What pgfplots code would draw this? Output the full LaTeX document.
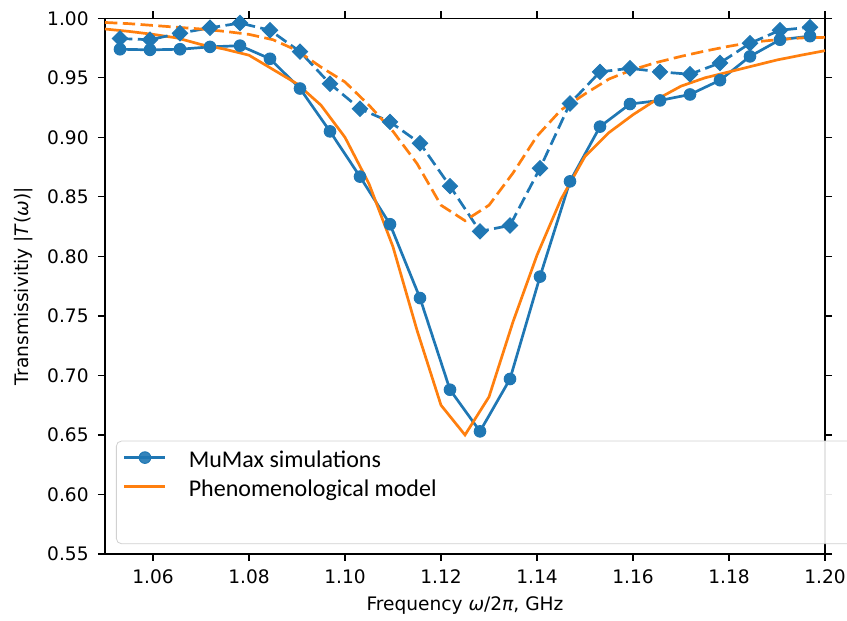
\documentclass[border=0pt]{standalone}
\usepackage{pgfplots}
\pgfplotsset{compat=1.18}
\usepackage{fontspec}
\setmainfont{DejaVu Sans}
\newfontfamily\legendfont{Carlito}
\definecolor{mplblue}{HTML}{1F77B4}
\definecolor{mplorange}{HTML}{FF7F0E}

\begin{document}
\begin{tikzpicture}
\begin{axis}[
  name=ax, at={(0,0)}, anchor=south west,
  scale only axis, width=360pt, height=267.85pt,
  xmin=1.05, xmax=1.20, ymin=0.55, ymax=1.00,
  xtick={1.06,1.08,1.10,1.12,1.14,1.16,1.18,1.20},
  ytick={0.55,0.60,0.65,0.70,0.75,0.80,0.85,0.90,0.95,1.00},
  tick align=outside, major tick length=3.5pt,
  every tick/.style={black, line width=0.6pt},
  axis line style={line width=0.6pt},
  tick label style={font=\fontsize{9.3}{11}\selectfont, inner sep=0pt,
    /pgf/number format/assume math mode=true,
    /pgf/number format/fixed, /pgf/number format/fixed zerofill,
    /pgf/number format/precision=2},
  xticklabel style={anchor=north, yshift=-4.1pt},
  yticklabel style={anchor=east, xshift=-4.5pt},
  label style={font=\fontsize{9.3}{11}\selectfont},
  xlabel={Frequency \textit{ω}/2\textit{π}, GHz},
  ylabel={Transmissivitiy |\textit{T}(\textit{ω})|},
  xlabel style={at={(axis description cs:0.5,-0.1064)}, anchor=base},
  ylabel style={at={(axis description cs:-0.10625,0.5)}, anchor=base},
  legend style={at={(axis description cs:0.01528,0.2115)}, anchor=north west,
    draw=black!18, fill=white, fill opacity=0.9, text opacity=1,
    rounded corners=2.5pt, inner xsep=3.35pt, inner ysep=1pt,
    font=\legendfont\fontsize{12}{14}\selectfont,
    nodes={inner sep=0pt, text depth=2.5pt}, row sep=0pt, column sep=11pt},
  legend cell align=left,
  legend image code/.code={\draw[mark repeat=2,mark phase=2,#1]
    plot coordinates {(0pt,0pt) (10.25pt,0pt) (20.5pt,0pt)};},
]
% MuMax, solid line with circles
\addplot[mplblue, line width=1.35pt, mark=*, mark size=2.9pt,
  mark options={line width=0.5pt}] coordinates {
(1.053125,0.974) (1.059375,0.9735) (1.065625,0.974) (1.071875,0.976)
(1.078125,0.977) (1.084375,0.966) (1.090625,0.941) (1.096875,0.905)
(1.103125,0.867) (1.109375,0.827) (1.115625,0.765) (1.121875,0.688)
(1.128125,0.653) (1.134375,0.697) (1.140625,0.783) (1.146875,0.863)
(1.153125,0.909) (1.159375,0.928) (1.165625,0.931) (1.171875,0.936)
(1.178125,0.948) (1.184375,0.968) (1.190625,0.982) (1.196875,0.985)};
\addlegendentry{\rule{0pt}{12pt}MuMax simulations}
% model, solid
\addplot[mplorange, line width=1.35pt] coordinates {
(1.050,0.991) (1.055,0.989) (1.060,0.9865) (1.065,0.9835) (1.070,0.978)
(1.075,0.974) (1.080,0.969) (1.085,0.957) (1.090,0.945) (1.095,0.927)
(1.100,0.900) (1.105,0.861) (1.110,0.808) (1.115,0.738) (1.120,0.675)
(1.125,0.650) (1.130,0.682) (1.135,0.745) (1.140,0.801) (1.145,0.848)
(1.150,0.884) (1.155,0.904) (1.160,0.919) (1.165,0.932) (1.170,0.943)
(1.175,0.950) (1.180,0.955) (1.185,0.960) (1.190,0.965) (1.195,0.969)
(1.200,0.9728)};
\addlegendentry{\rule{0pt}{12pt}Phenomenological model}
% MuMax, dashed with diamonds
\addplot[mplblue, line width=1.35pt, dash pattern=on 6.2pt off 2.7pt,
  mark=square*, mark size=2.7pt, mark options={solid, rotate=45, line width=0.5pt},
  forget plot] coordinates {
(1.053125,0.983) (1.059375,0.982) (1.065625,0.9875) (1.071875,0.992)
(1.078125,0.996) (1.084375,0.990) (1.090625,0.972) (1.096875,0.945)
(1.103125,0.924) (1.109375,0.913) (1.115625,0.895) (1.121875,0.859)
(1.128125,0.821) (1.134375,0.826) (1.140625,0.874) (1.146875,0.9285)
(1.153125,0.955) (1.159375,0.958) (1.165625,0.955) (1.171875,0.953)
(1.178125,0.9625) (1.184375,0.979) (1.190625,0.990) (1.196875,0.9925)};
% model, dashed
\addplot[mplorange, line width=1.35pt, dash pattern=on 6.2pt off 2.7pt, forget plot]
  coordinates {
(1.050,0.9965) (1.055,0.9955) (1.060,0.994) (1.065,0.9925) (1.070,0.991)
(1.075,0.989) (1.080,0.9865) (1.085,0.982) (1.090,0.973) (1.095,0.959)
(1.100,0.9465) (1.105,0.927) (1.110,0.905) (1.115,0.878) (1.120,0.843)
(1.125,0.830) (1.130,0.843) (1.135,0.870) (1.140,0.901) (1.145,0.923)
(1.150,0.9365) (1.155,0.949) (1.160,0.957) (1.165,0.963) (1.170,0.968)
(1.175,0.9725) (1.180,0.9765) (1.185,0.980) (1.190,0.982) (1.195,0.9835)
(1.200,0.984)};
\addlegendimage{empty legend}
\addlegendentry{\rule{0pt}{17.8pt}\hspace*{329.8pt}}
\end{axis}
\pgfresetboundingbox
\path (ax.south west) ++(-52.5pt,-33.5pt) rectangle ++(423.5pt,310.5pt);
\end{tikzpicture}
\end{document}
